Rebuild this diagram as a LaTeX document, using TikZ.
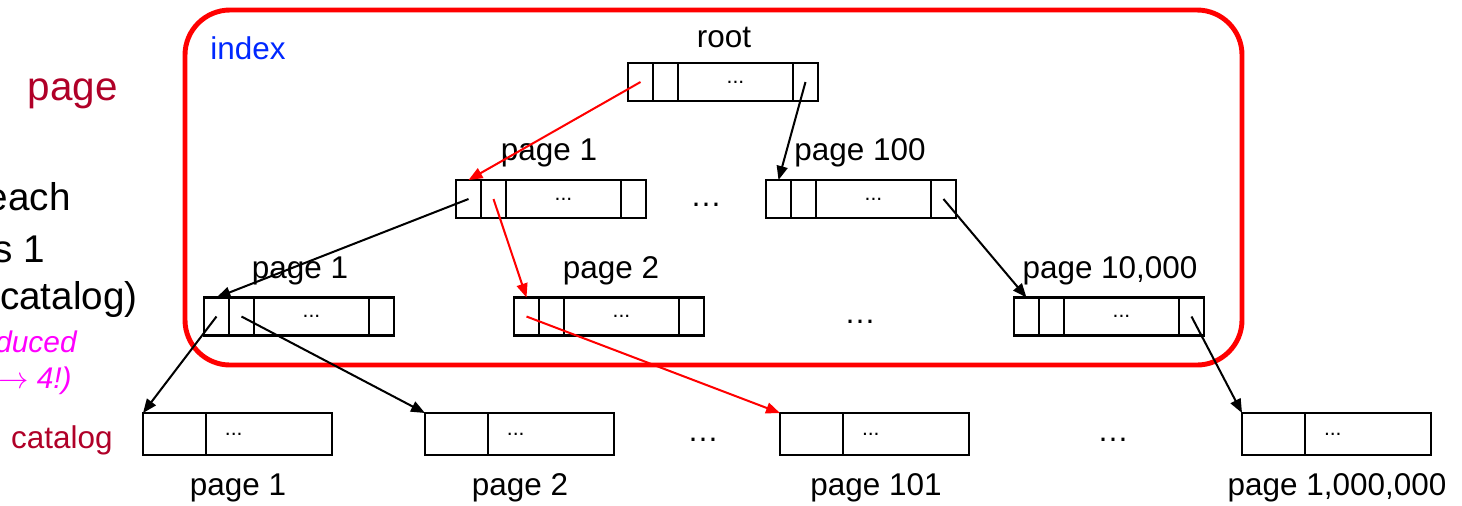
\documentclass[tikz,border=0pt]{standalone}
\usepackage{fontspec}
\setmainfont{Liberation Sans}
\usetikzlibrary{positioning,arrows.meta}
\definecolor{titlered}{RGB}{176,0,40}
\definecolor{idxblue}{RGB}{0,40,255}
\definecolor{notepink}{RGB}{255,0,255}

\tikzset{
  cell/.style={draw,line width=1.6pt,minimum width=0.5cm,minimum height=0.76cm,inner sep=0,outer sep=0},
  wide/.style={cell,minimum width=2.3cm,font=\fontsize{12}{14}\selectfont},
  leafkey/.style={cell,minimum width=1.26cm,minimum height=0.84cm},
  leafrest/.style={cell,minimum height=0.84cm,inner xsep=0.38cm,text width=1.76cm,align=left,font=\fontsize{12}{14}\selectfont},
  lbl/.style={inner sep=0,font=\fontsize{17.9}{20}\selectfont},
  side/.style={inner sep=0,anchor=base east,font=\fontsize{22}{26}\selectfont},
  note/.style={side,text=notepink,font=\fontsize{17}{20}\selectfont\itshape},
  ptr/.style={line width=1.15pt,-{Triangle[length=0.28cm,width=0.22cm]}},
}

% index page: four cells, the third one holds the dots
\newcommand{\idxpage}[2]{
  \node[cell] (#1-1) at #2 {};
  \node[cell,right=0pt of #1-1] (#1-2) {};
  \node[wide,right=0pt of #1-2] (#1-3) {...};
  \node[cell,right=0pt of #1-3] (#1-4) {};
}
% catalog page: key cell and the rest
\newcommand{\leafpage}[2]{
  \node[leafkey] (#1-1) at #2 {};
  \node[leafrest,right=0pt of #1-1] (#1-2) {...};
}

\begin{document}
\begin{tikzpicture}[x=0.02cm,y=-0.02cm]
  \clip (0,0) rectangle (1462,505);

  % text cut off at the left
  \node[side,text=titlered,font=\fontsize{23}{26}\selectfont] (hdr) at (118,100) {page};
  \node[side] (t1) at (71,210) {each};
  \node[side] (t2) at (45,262) {s 1};
  \node[side] (t3) at (138,309) {catalog)};
  \node[note] (t4) at (77,352) {duced};
  \node[note] (t5) at (72,388) {$\rightarrow$ 4!)};
  \node[side,text=titlered,font=\fontsize{17.9}{20}\selectfont] (cat) at (113,448) {catalog};

  % index frame
  \draw[red,line width=2.8pt,rounded corners=0.9cm] (185,10) rectangle (1242,365);
  \node[lbl,text=idxblue] (idx) at (248,48) {index};

  % index pages
  \idxpage{root}{(640.5,82)}
  \idxpage{pa}{(468.5,199)}
  \idxpage{pb}{(778.5,199)}
  \idxpage{qa}{(216.5,316.5)}
  \idxpage{qb}{(526.5,316.5)}
  \idxpage{qc}{(1026.5,316.5)}

  % catalog pages
  \leafpage{ca}{(174.5,434)}
  \leafpage{cb}{(456.5,434)}
  \leafpage{cc}{(811.5,434)}
  \leafpage{cd}{(1273.5,434)}

  \node[lbl] (lroot) at (724,37) {root};
  \node[lbl] (lpa) at (549,153) {page 1};
  \node[lbl] (lpb) at (860,153) {page 100};
  \node[lbl] (lqa) at (300,271) {page 1};
  \node[lbl] (lqb) at (611,271) {page 2};
  \node[lbl] (lqc) at (1110,271) {page 10,000};
  \node[lbl] (lca) at (238,488) {page 1};
  \node[lbl] (lcb) at (520,488) {page 2};
  \node[lbl] (lcc) at (876,488) {page 101};
  \node[lbl] (lcd) at (1337,488) {page 1,000,000};

  \node[lbl] (d1) at (706,205) {…};
  \node[lbl] (d2) at (860,322) {…};
  \node[lbl] (d3) at (703,440) {…};
  \node[lbl] (d4) at (1113,440) {…};

  % pointers
  \draw[ptr,red] (root-1.center) -- (pa-1.north);
  \draw[ptr] (root-4.center) -- (pb-1.north);
  \draw[ptr] (pa-1.center) -- (qa-1.north);
  \draw[ptr,red] (pa-2.center) -- (qb-1.north);
  \draw[ptr] (pb-4.center) -- (qc-1.north);
  \draw[ptr] (qa-1.center) -- (ca-1.north west);
  \draw[ptr] (qa-2.center) -- (cb-1.north west);
  \draw[ptr,red] (qb-1.center) -- (cc-1.north west);
  \draw[ptr] (qc-4.center) -- (cd-1.north west);
\end{tikzpicture}
\end{document}
